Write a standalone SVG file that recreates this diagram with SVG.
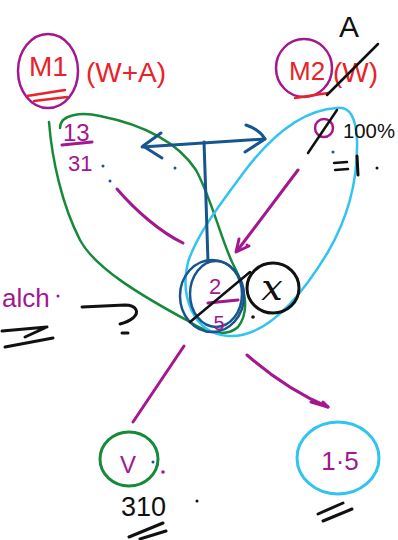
<svg xmlns="http://www.w3.org/2000/svg" width="398" height="540" viewBox="0 0 398 540">
<style>
.s{fill:none;stroke-linecap:round;stroke-linejoin:round}
.mg{stroke:#a3178f}
.rd{stroke:#e8232b}
.gr{stroke:#178a3a}
.lb{stroke:#33c3f0}
.db{stroke:#17558f}
.bk{stroke:#111}
.w3{stroke-width:3}
.w25{stroke-width:2.5}
text{font-family:"Liberation Sans",Arial,sans-serif}
text.serif{font-family:"DejaVu Serif","Liberation Serif",serif;font-style:italic}
.tr{fill:#e8232b}
.tm{fill:#a3178f}
.tk{fill:#111}
</style>
<rect width="398" height="540" fill="#fff"/>

<g id="groups">
  <path class="s gr w25" d="M49,122 C52,160 62,205 80,240 C95,268 140,295 190,322 C205,332 226,338 238,327 C250,312 246,288 232,262 C220,236 212,200 196,170 C176,140 140,124 100,116 C82,112 60,114 60,128"/>
  <path class="s lb w25" d="M337,108 C300,110 268,140 244,172 C222,202 198,232 188,262 C180,295 192,333 228,336 C262,338 296,305 328,252 C350,214 358,176 357,140 C356,118 350,106 337,108"/>
</g>

<g id="connectors">
  <path class="s db w3" d="M142,147 L265,139"/>
  <path class="s db w3" d="M161,133 L143,146 L162,158"/>
  <path class="s db w3" d="M246,125 C255,128 262,134 265,139 L245,152"/>
  <path class="s db w3" d="M204,142 L206,200 L208,262"/>
  <path class="s mg w3" d="M117,189 C135,210 160,232 183,243"/>
  <path class="s mg w3" d="M298,170 L237,251"/>
  <path class="s mg w3" d="M239,239 L236,252 L249,246"/>
  <path class="s mg w3" d="M184,346 L133,422"/>
  <path class="s mg w3" d="M247,355 C270,375 300,395 328,407"/>
  <path class="s mg w3" d="M311,402 L328,407 L323,402"/>
</g>

<g id="M1">
  <ellipse class="s mg w25" cx="48" cy="71" rx="30" ry="37"/>
  <text class="tr" x="29" y="76" font-size="28">M1</text>
  <path class="s rd w25" d="M27,96 L65,90 M34,101 L67,97"/>
  <text class="tr" x="86" y="82" font-size="28">(W+A)</text>
</g>

<g id="M2">
  <ellipse class="s mg w25" cx="304" cy="68" rx="28" ry="29"/>
  <text class="tr" x="289" y="80" font-size="26">M2</text>
  <path class="s rd w25" d="M295,98 L328,93"/>
  <text class="tr" x="333" y="82" font-size="28">(W)</text>
  <path class="s bk w25" d="M327,95 L378,44"/>
  <text class="tk" x="339" y="37" font-size="30">A</text>
</g>

<g id="frac13">
  <text class="tm" x="63" y="141" font-size="24">13</text>
  <path class="s mg w3" d="M62,145 L92,142"/>
  <text class="tm" x="68" y="171" font-size="22">31</text>
  <circle cx="103" cy="166" r="1.5" fill="#17558f"/>
  <circle cx="110" cy="181" r="1.5" fill="#17558f"/>
  <circle cx="175" cy="168" r="1.5" fill="#17558f"/>
</g>

<g id="pct">
  <circle class="s mg w25" cx="324" cy="128" r="9"/>
  <path class="s bk w25" d="M308,153 L337,110"/>
  <text class="tk" x="343" y="138" font-size="20" textLength="52" lengthAdjust="spacingAndGlyphs">100%</text>
  <circle cx="333" cy="152" r="1.5" fill="#17558f"/>
  <path class="s bk w25" d="M334,163 L347,162 M335,170 L348,169"/>
  <path class="s bk w3" d="M357,156 L358,175"/>
  <circle cx="377" cy="168" r="1.5" fill="#111"/>
</g>

<g id="center">
  <ellipse class="s db w25" cx="212" cy="296" rx="32" ry="36"/>
  <ellipse class="s db w25" cx="216" cy="294" rx="26" ry="33"/>
  <text class="tm" x="215" y="294" font-size="22" text-anchor="middle">2</text>
  <path class="s mg w3" d="M208,303 L238,300"/>
  <text class="tm" x="219" y="330" font-size="20" text-anchor="middle">5</text>
  <path class="s bk w25" d="M190,322 L250,272"/>
  <circle cx="247" cy="245" r="1.5" fill="#a3178f"/>
</g>

<g id="x">
  <ellipse class="s bk w3" cx="273" cy="288" rx="26" ry="25"/>
  <text class="tk serif" x="272" y="300" font-size="38" text-anchor="middle">x</text>
  <circle cx="253" cy="317" r="1.8" fill="#111"/>
</g>

<g id="alch">
  <text class="tm" x="2" y="307" font-size="26">alch</text>
  <circle cx="58" cy="296" r="1.5" fill="#a3178f"/>
  <path class="s bk w3" d="M82,307 L125,305 C136,305 140,312 133,318 C128,322 124,323 120,324"/>
  <path class="s bk w3" d="M122,333 L128,333"/>
  <path class="s bk w3" d="M2,331 L47,327 L25,337"/>
  <path class="s bk w3" d="M5,347 L53,338"/>
</g>

<g id="V">
  <ellipse class="s gr w3" cx="129" cy="459" rx="29" ry="27"/>
  <text class="tm" x="128" y="473" font-size="24" text-anchor="middle">V</text>
  <circle cx="153" cy="462" r="1.5" fill="#17558f"/>
  <circle cx="163" cy="472" r="1.8" fill="#a3178f"/>
  <text class="tk" x="121" y="516" font-size="27">310</text>
  <circle cx="197" cy="501" r="1.5" fill="#111"/>
  <path class="s bk w3" d="M129,537 L163,523 M140,539 L166,531"/>
</g>

<g id="n15">
  <ellipse class="s lb w3" cx="338" cy="458" rx="41" ry="36"/>
  <text class="tm" x="340" y="470" font-size="26" text-anchor="middle">1·5</text>
  <path class="s bk w3" d="M318,514 L343,503 M323,521 L352,509"/>
</g>
</svg>
